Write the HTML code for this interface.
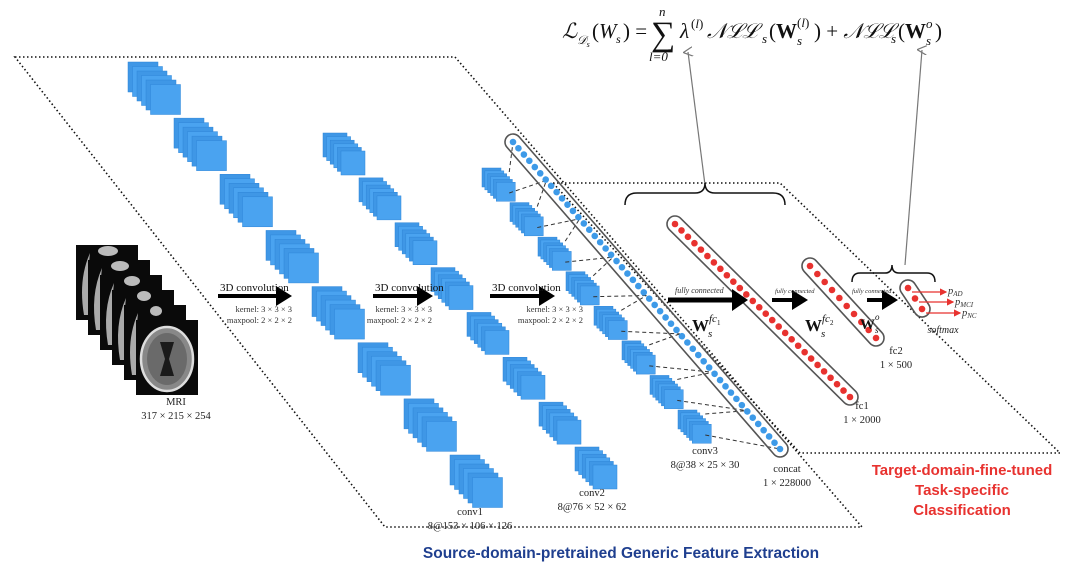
<!DOCTYPE html>
<html><head><meta charset="utf-8"><style>
html,body{margin:0;padding:0;background:#fff;}
svg{display:block;}
.serif{font-family:"Liberation Serif",serif;}
.sans{font-family:"Liberation Sans",sans-serif;}
</style></head><body>
<svg id="fig" width="1078" height="576" viewBox="0 0 1078 576" xmlns="http://www.w3.org/2000/svg">
<defs>
<marker id="ra" markerWidth="6" markerHeight="6" refX="5" refY="3" orient="auto"><path d="M0,0 L6,3 L0,6 z" fill="#e8322f"/></marker>
<marker id="ga" markerWidth="8" markerHeight="8" refX="4" refY="4" orient="auto"><path d="M0,8 L4,0 L8,8" fill="none" stroke="#777" stroke-width="1"/></marker>
</defs>
<polygon points="15,57 455,57 862,527 385,527" fill="none" stroke="#111" stroke-width="1.6" stroke-dasharray="1.5,2.5"/>
<polygon points="553,183 780,183 1060,453 800,453" fill="none" stroke="#111" stroke-width="1.6" stroke-dasharray="1.5,2.5"/>

<g class="serif" fill="#111" font-size="21">
<text x="562" y="38" font-style="italic">ℒ</text>
<text x="577" y="44" font-size="12" font-style="italic">𝒟<tspan font-size="8" dy="3">s</tspan></text>
<text x="592" y="38">(<tspan font-style="italic">W</tspan></text>
<text x="616" y="43" font-size="12" font-style="italic">s</text>
<text x="623" y="38">) =</text>
<text x="651" y="45" font-size="34">∑</text>
<text x="659" y="16" font-size="13" font-style="italic">n</text>
<text x="649" y="61" font-size="13" font-style="italic">l=0</text>
<text x="680" y="38" font-style="italic">λ</text>
<text x="691" y="28" font-size="13">(<tspan font-style="italic">l</tspan>)</text>
<text x="707" y="38" font-style="italic">𝒩ℒℒ</text>
<text x="762" y="43" font-size="13" font-style="italic">s</text>
<text x="769" y="38">(<tspan font-weight="bold">W</tspan></text>
<text x="797" y="27" font-size="13">(<tspan font-style="italic">l</tspan>)</text>
<text x="797" y="45" font-size="13" font-style="italic">s</text>
<text x="814" y="38">) + <tspan font-style="italic">𝒩ℒℒ</tspan></text>
<text x="891" y="43" font-size="13" font-style="italic">s</text>
<text x="898" y="38">(<tspan font-weight="bold">W</tspan></text>
<text x="926" y="28" font-size="13" font-style="italic">o</text>
<text x="926" y="45" font-size="13" font-style="italic">s</text>
<text x="935" y="38">)</text>
</g>
<line x1="705" y1="185" x2="688" y2="52" stroke="#777" stroke-width="1.2" marker-end="url(#ga)"/>
<line x1="905" y1="265" x2="922" y2="50" stroke="#777" stroke-width="1.2" marker-end="url(#ga)"/>
<path d="M625,205 Q625,193 637,193 L695,193 Q705,193 705,183 Q705,193 715,193 L773,193 Q785,193 785,205" fill="none" stroke="#111" stroke-width="1.5"/>
<path d="M852,282 Q852,273 860,273 L885,273 Q892,273 892,265 Q892,273 899,273 L927,273 Q935,273 935,282" fill="none" stroke="#111" stroke-width="1.5"/>

<g id="mri"></g>
<g id="blocks"></g>
<g id="dash"></g>
<g id="bars"></g>
<g id="arrows"></g>

<g class="serif" fill="#222" font-size="10.5" text-anchor="middle">
<text x="176" y="405">MRI</text>
<text x="176" y="419">317 × 215 × 254</text>
<text x="470" y="515">conv1</text>
<text x="470" y="529">8@153 × 106 × 126</text>
<text x="592" y="496">conv2</text>
<text x="592" y="510">8@76 × 52 × 62</text>
<text x="705" y="454">conv3</text>
<text x="705" y="468">8@38 × 25 × 30</text>
<text x="787" y="472">concat</text>
<text x="787" y="486">1 × 228000</text>
<text x="862" y="409">fc1</text>
<text x="862" y="423">1 × 2000</text>
<text x="896" y="354">fc2</text>
<text x="896" y="368">1 × 500</text>
<text x="943" y="333" font-style="italic" font-size="10">softmax</text>
</g>
<g class="serif" fill="#111" font-size="11">
<text x="220" y="291">3D convolution</text>
<text x="375" y="291">3D convolution</text>
<text x="492" y="291">3D convolution</text>
<g font-size="8.5" fill="#333" text-anchor="end">
<text x="292" y="312">kernel: 3 × 3 × 3</text><text x="292" y="323">maxpool: 2 × 2 × 2</text>
<text x="432" y="312">kernel: 3 × 3 × 3</text><text x="432" y="323">maxpool: 2 × 2 × 2</text>
<text x="583" y="312">kernel: 3 × 3 × 3</text><text x="583" y="323">maxpool: 2 × 2 × 2</text>
</g>
<g font-style="italic" font-size="8" fill="#333">
<text x="675" y="293">fully connected</text>
<text x="775" y="293" font-size="6.5">fully connected</text>
<text x="852" y="293" font-size="6.5">fully connected</text>
</g>
<text x="692" y="331" font-weight="bold" font-size="17">W</text>
<text x="709" y="322" font-size="11" font-style="italic">fc<tspan font-size="7" dy="3" font-style="normal">1</tspan></text>
<text x="708" y="337" font-size="11" font-style="italic">s</text>
<text x="805" y="331" font-weight="bold" font-size="17">W</text>
<text x="822" y="322" font-size="11" font-style="italic">fc<tspan font-size="7" dy="3" font-style="normal">2</tspan></text>
<text x="821" y="337" font-size="11" font-style="italic">s</text>
<text x="860" y="329" font-weight="bold" font-size="15">W</text>
<text x="875" y="320" font-size="9" font-style="italic">o</text>
<text x="875" y="333" font-size="9" font-style="italic">s</text>
<g font-style="italic" font-size="10.5" fill="#333">
<text x="948" y="294">p<tspan font-size="7" dy="2">AD</tspan></text>
<text x="955" y="305">p<tspan font-size="7" dy="2">MCI</tspan></text>
<text x="962" y="316">p<tspan font-size="7" dy="2">NC</tspan></text>
</g>
</g>
<text class="sans" x="621" y="558" text-anchor="middle" font-weight="bold" font-size="15.5" fill="#1f3f8f">Source-domain-pretrained Generic Feature Extraction</text>
<g class="sans" font-weight="bold" font-size="15" fill="#e8322f" text-anchor="middle">
<text x="962" y="475">Target-domain-fine-tuned</text>
<text x="962" y="495">Task-specific</text>
<text x="962" y="515">Classification</text>
</g>
</svg>
<script>
// layer definitions (diagram "data")
const layerNames = ['conv1','conv2','conv3'];
const blockCounts = [8, 8, 8];
const layerSize = [30, 24, 19];
const layerStart = [[128,62],[323,133],[482,168]];
const layerEnd = [[450,455],[575,447],[678,410]];
const sheetsPerBlock = 6;
const dotCounts = [50, 28, 10, 3];
const barNames = ['concat-bar','fc1-bar','fc2-bar','softmax-bar'];
const barColors = ['#3d9ae8','#e8322f','#e8322f','#e8322f'];
const barEnds = [[[513,142],[780,449]],[[675,224],[850,397]],[[810,266],[876,338]],[[908,288],[922,309]]];
const ns='http://www.w3.org/2000/svg';
function mk(t,a,p){const e=document.createElementNS(ns,t);for(const k in a)e.setAttribute(k,a[k]);p.appendChild(e);return e;}
// MRI stack
const mri=document.getElementById('mri');
for(let i=0;i<6;i++){
  const x=76+i*12,y=245+i*15;
  const g=mk('g',{},mri);
  
  
  mk('rect',{x:x,y:y,width:62,height:75,fill:'#0a0a0a'},g);
  if(i<5){
    mk('path',{d:`M${x+8},${y+70} Q${x+2},${y+35} ${x+14},${y+8} Q${x+10},${y+40} ${x+16},${y+70} z`,fill:'#aaa'},g);
    mk('ellipse',{cx:x+32,cy:y+6,rx:10-i,ry:5,fill:'#bbb'},g);
  } else {
    mk('ellipse',{cx:x+31,cy:y+39,rx:26,ry:32,fill:'#888',stroke:'#ddd','stroke-width':2.5},g);
    mk('ellipse',{cx:x+31,cy:y+39,rx:20,ry:26,fill:'#6a6a6a'},g);
    mk('path',{d:`M${x+24},${y+22} L${x+38},${y+22} L${x+33},${y+39} L${x+38},${y+56} L${x+24},${y+56} L${x+29},${y+39} z`,fill:'#1a1a1a'},g);
  }
}
// conv blocks
const blocks=document.getElementById('blocks');
for(let L=0;L<3;L++){
  const n=blockCounts[L],s=layerSize[L],off=s*0.15;
  for(let b=0;b<n;b++){
    const t=b/(n-1);
    const bx=layerStart[L][0]+(layerEnd[L][0]-layerStart[L][0])*t;
    const by=layerStart[L][1]+(layerEnd[L][1]-layerStart[L][1])*t;
    const g=mk('g',{},blocks);
    
    
    for(let k=0;k<sheetsPerBlock;k++){
      mk('rect',{x:bx+k*off,y:by+k*off,width:s,height:s*1.0,fill:k%2?'#4aa3f0':'#3f97e6',stroke:'#2f86d8','stroke-width':0.5},g);
    }
  }
}
// bars
const bars=document.getElementById('bars');
const dash=document.getElementById('dash');
for(let i=0;i<4;i++){
  const [a,b]=barEnds[i];const dx=b[0]-a[0],dy=b[1]-a[1];const len=Math.hypot(dx,dy);const ang=Math.atan2(dy,dx)*180/Math.PI;
  const g=mk('g',{transform:`translate(${a[0]},${a[1]}) rotate(${ang})`},bars);
  
  
  mk('rect',{x:-8,y:-8,width:len+16,height:16,rx:8,fill:'none',stroke:'#555','stroke-width':1.6},g);
  const n=dotCounts[i];
  for(let k=0;k<n;k++){
    const c=mk('circle',{cx:n>1?k*len/(n-1):0,cy:0,r:3.3,fill:barColors[i]},g);
    
    
  }
}
// dashed connections conv3 -> concat
const cb=barEnds[0];
for(let b=0;b<blockCounts[2];b++){
  const t=b/(blockCounts[2]-1);
  const bx=layerStart[2][0]+(layerEnd[2][0]-layerStart[2][0])*t+layerSize[2]+layerSize[2]*0.75;
  const by=layerStart[2][1]+(layerEnd[2][1]-layerStart[2][1])*t;
  const t0=b/blockCounts[2],t1=(b+1)/blockCounts[2];
  [[t0,by+4],[t1,by+layerSize[2]+6]].forEach(([tt,yy])=>{
    const px=cb[0][0]+(cb[1][0]-cb[0][0])*tt,py=cb[0][1]+(cb[1][1]-cb[0][1])*tt;
    const l=mk('line',{x1:bx-6,y1:yy,x2:px,y2:py,stroke:'#333','stroke-width':1,'stroke-dasharray':'4,3'},dash);
    
    
  });
}
// arrows
const arrowSpec=[[218,296,292,6],[373,296,433,6],[490,296,555,6],[668,300,748,7],[772,300,808,6],[867,300,898,6]];
const ar=document.getElementById('arrows');
arrowSpec.forEach(([x1,y,x2,w])=>{
  const p=mk('path',{d:`M${x1},${y-w/2+1} L${x2-16},${y-w/2+1} L${x2-16},${y-w-4} L${x2},${y} L${x2-16},${y+w+4} L${x2-16},${y+w/2-1} L${x1},${y+w/2-1} z`,fill:'#000'},ar);
  
  
});
[[912,292,946],[919,302,953],[926,313,960]].forEach(([x1,y,x2])=>{
  const l=mk('line',{x1:x1,y1:y,x2:x2,y2:y,stroke:'#e8322f','stroke-width':1.2,'marker-end':'url(#ra)'},ar);
  
  
});
</script>
</body></html>
